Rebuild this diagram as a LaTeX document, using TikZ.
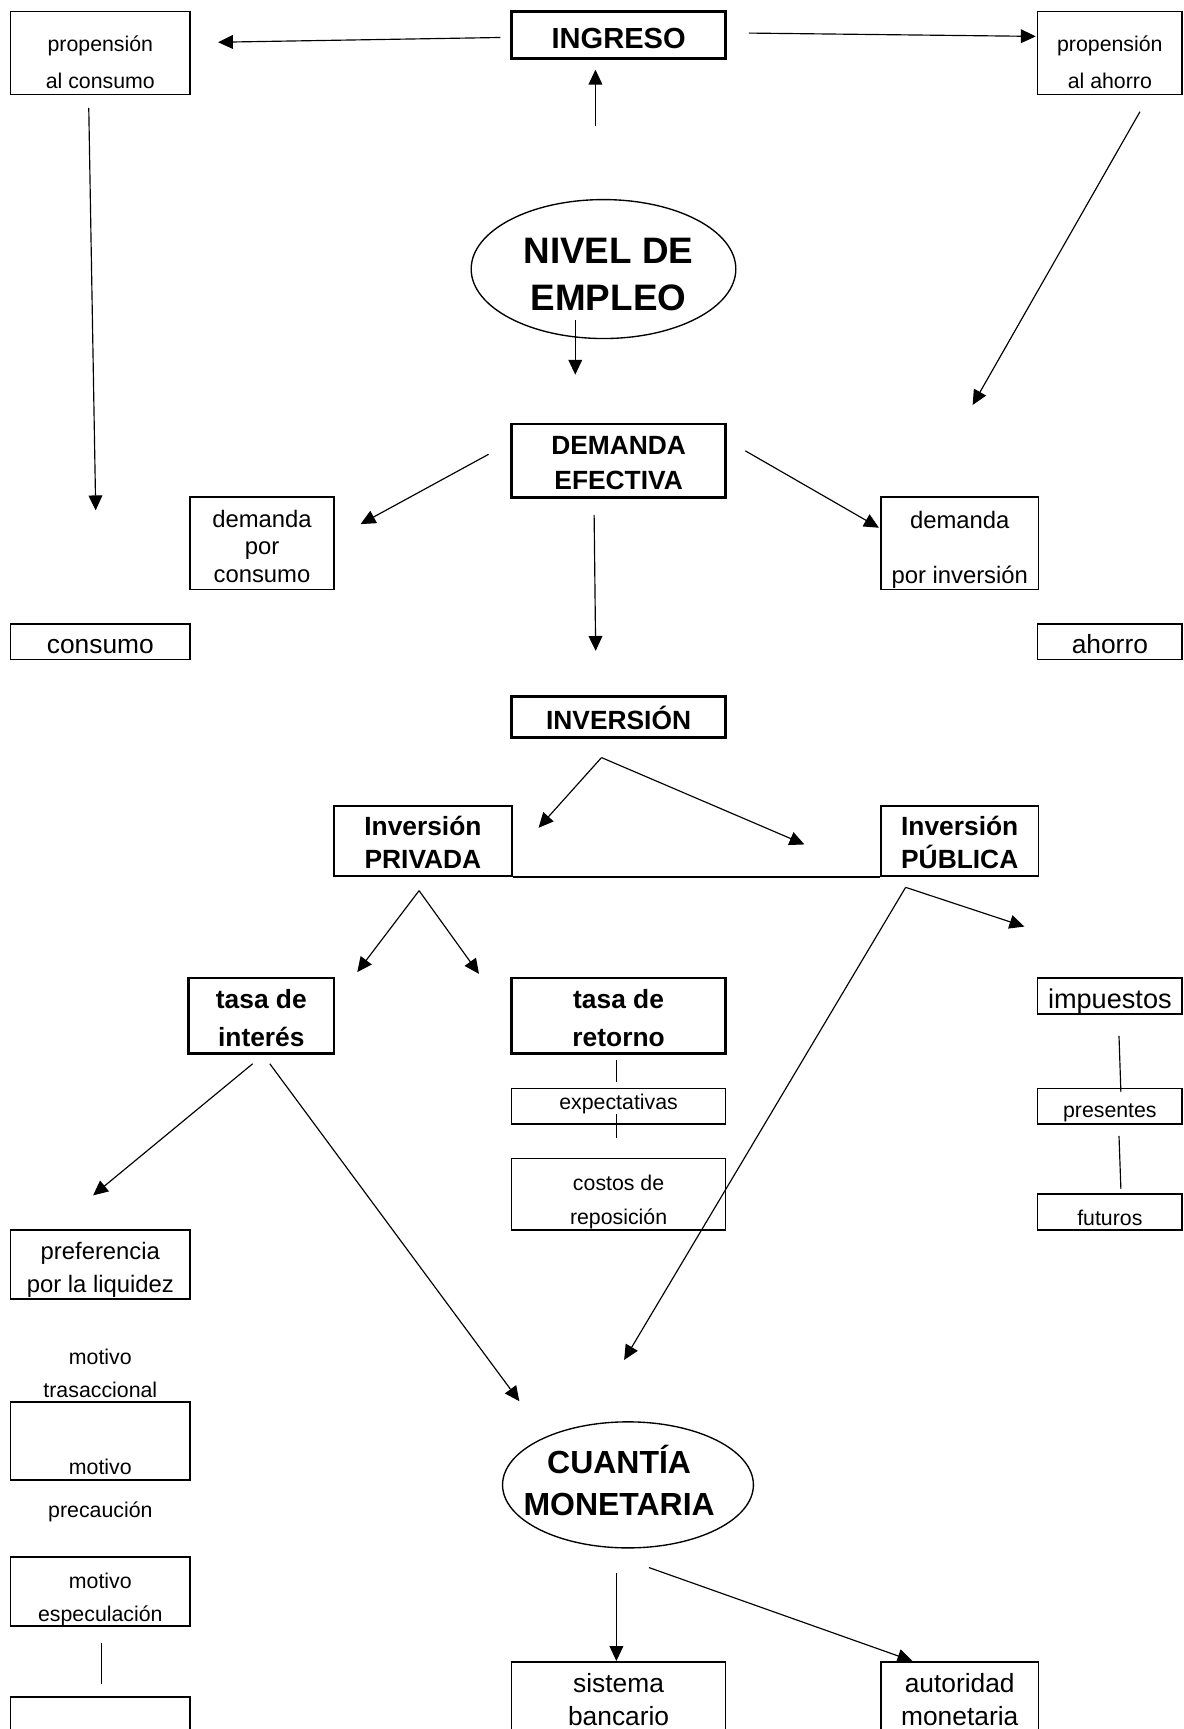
\documentclass[tikz,border=0pt]{standalone}
\usepackage{fontspec}
\setmainfont{Liberation Sans}
\usetikzlibrary{arrows.meta,shapes.geometric}

\tikzset{
  box/.style={draw, rectangle, line width=0.8pt, inner sep=0pt},
  thickbox/.style={box, line width=1.4pt},
  oval/.style={draw, ellipse, line width=0.7pt, inner sep=0pt},
  txt/.style={inner sep=0pt, align=center},
  arr/.style={-{Triangle[length=2.7mm,width=2.5mm]}, line width=0.6pt},
  ln/.style={line width=0.6pt},
  smalltxt/.style={font=\fontsize{11}{17}\selectfont},
  midtxt/.style={font=\fontsize{12.3}{14.2}\selectfont},
  bigtxt/.style={font=\fontsize{13.6}{17}\selectfont},
  boldtxt/.style={font=\bfseries\fontsize{13.6}{17}\selectfont},
}

\begin{document}
\begin{tikzpicture}[x=0.2mm, y=-0.2mm]
    \useasboundingbox (0,0) rectangle (1073,1568);
    \clip (0,0) rectangle (1073,1568);

    % the top row (texts are put in as labels, a bit lower than the middle of the box)
    \node[box, minimum width=32.6mm, minimum height=15mm,
      label={[txt, font=\fontsize{11}{18.7}\selectfont, yshift=-1.7mm]center:propensión\\al consumo}] (propcons) at (91,48) {};
    \node[thickbox, minimum width=38.8mm, minimum height=8.46mm,
      label={[txt, font=\bfseries\fontsize{15}{18}\selectfont, yshift=-0.6mm]center:INGRESO}] (ingreso) at (561,31.8) {};
    \node[box, minimum width=26.2mm, minimum height=15mm,
      label={[txt, font=\fontsize{11}{18.7}\selectfont, yshift=-1.7mm]center:propensión\\al ahorro}] (propahorro) at (1006.5,48) {};

    \node[oval, minimum width=48mm, minimum height=25.2mm,
      label={[txt, font=\bfseries\fontsize{19}{24.4}\selectfont, xshift=0.9mm, yshift=-1mm]center:NIVEL DE\\EMPLEO}] (empleo) at (547.3,244) {};

    % demanda
    \node[thickbox, minimum width=38.8mm, minimum height=13.36mm,
      label={[txt, font=\bfseries\fontsize{13.6}{18.1}\selectfont, yshift=-0.4mm]center:DEMANDA\\EFECTIVA}] (demanda) at (561,418) {};
    \node[box, minimum width=26.04mm, minimum height=16.8mm,
      label={[txt, midtxt, yshift=-0.6mm]center:demanda\\por\\consumo}] (demcons) at (237.6,492.5) {};
    \node[box, minimum width=28.62mm, minimum height=16.8mm,
      label={[txt, midtxt, yshift=-1.2mm]center:demanda\\[14pt]por inversión}] (deminv) at (870.35,492.5) {};
    \node[box, minimum width=32.6mm, minimum height=6.4mm,
      label={[txt, bigtxt, yshift=-0.8mm]center:consumo}] (consumo) at (91,582) {};
    \node[box, minimum width=26.2mm, minimum height=6.4mm,
      label={[txt, bigtxt, yshift=-0.4mm]center:ahorro}] (ahorro) at (1006.5,582) {};

    % inversion
    \node[thickbox, minimum width=38.8mm, minimum height=7.38mm,
      label={[txt, boldtxt, yshift=-0.2mm]center:INVERSIÓN}] (inversion) at (561,650.35) {};
    \node[box, minimum width=32.34mm, minimum height=12.72mm,
      label={[txt, boldtxt, yshift=-0.2mm]center:Inversión\\PRIVADA}] (privada) at (383.55,762.8) {};
    \node[box, minimum width=28.62mm, minimum height=12.72mm,
      label={[txt, boldtxt, yshift=-0.2mm]center:Inversión\\PÚBLICA}] (publica) at (870.35,762.8) {};

    % tasas
    \node[thickbox, minimum width=26.38mm, minimum height=13.72mm,
      label={[txt, font=\bfseries\fontsize{13.6}{19.8}\selectfont, yshift=-0.4mm]center:tasa de\\interés}] (interes) at (237,921.1) {};
    \node[thickbox, minimum width=38.8mm, minimum height=13.72mm,
      label={[txt, font=\bfseries\fontsize{13.6}{19.8}\selectfont, yshift=-0.4mm]center:tasa de\\retorno}] (retorno) at (561,921.1) {};
    \node[box, minimum width=38.8mm, minimum height=6.46mm,
      label={[txt, smalltxt, yshift=0.4mm]center:expectativas}] (expect) at (561,1003.35) {};
    \node[box, minimum width=38.8mm, minimum height=13mm,
      label={[txt, font=\fontsize{11}{17.6}\selectfont, yshift=-1.4mm]center:costos de\\reposición}] (costos) at (561,1083.1) {};

    % impuestos
    \node[box, minimum width=26.2mm, minimum height=6.58mm,
      label={[txt, font=\fontsize{14}{17}\selectfont, yshift=-1mm]center:impuestos}] (impuestos) at (1006.5,903.25) {};
    \node[box, minimum width=26.2mm, minimum height=6.46mm,
      label={[txt, smalltxt, yshift=-1.2mm]center:presentes}] (presentes) at (1006.5,1003.35) {};
    \node[box, minimum width=26.2mm, minimum height=6.52mm,
      label={[txt, smalltxt, yshift=-1mm]center:futuros}] (futuros) at (1006.5,1099.3) {};

    % motivos
    \node[box, minimum width=32.6mm, minimum height=12.52mm,
      label={[txt, font=\fontsize{12.3}{17}\selectfont, yshift=-1mm]center:preferencia\\por la liquidez}] (liquidez) at (91,1146.9) {};
    \node[txt, smalltxt] (trasacc) at (91,1245.7) {motivo\\trasaccional};
    \node[box, minimum width=32.6mm, minimum height=14.2mm] (precbox) at (91,1306.9) {};
    \node[txt, smalltxt] (precmot) at (91,1330.3) {motivo};
    \node[txt, smalltxt] (precauc) at (91,1371) {precaución};
    \node[box, minimum width=32.6mm, minimum height=12.56mm,
      label={[txt, smalltxt, yshift=-1.4mm]center:motivo\\especulación}] (especul) at (91,1443.4) {};
    \node[box, minimum width=32.6mm, minimum height=12.4mm] (lastbox) at (91,1570) {};

    % cuantia
    \node[oval, minimum width=45.5mm, minimum height=22.86mm,
      label={[txt, font=\bfseries\fontsize{16.5}{22}\selectfont, xshift=-1.6mm, yshift=0.8mm]center:CUANTÍA\\MONETARIA}] (cuantia) at (569.5,1346.6) {};
    \node[box, minimum width=38.8mm, minimum height=13.6mm,
      label={[txt, bigtxt]center:sistema\\bancario}] (sistema) at (561,1541) {};
    \node[box, minimum width=28.62mm, minimum height=13.6mm,
      label={[txt, bigtxt]center:autoridad\\monetaria}] (autoridad) at (870.35,1541) {};

    % the split points
    \coordinate (invsplit) at ([shift={(-15.5,17)}]inversion.south);
    \coordinate (privsplit) at ([shift={(-3.5,12.4)}]privada.south);
    \coordinate (pubsplit) at ([shift={(23.2,9.4)}]publica.south west);

    % draw the arrows
    \draw[arr] ([shift={(-9,2.2)}]ingreso.west) -- ([shift={(24.5,-9.7)}]propcons.east);
    \draw[arr] ([shift={(20,-1.8)}]ingreso.east) -- ([shift={(-1,-15)}]propahorro.west);
    \draw[arr] ([shift={(-21,60)}]ingreso.south) -- ([shift={(-21,9)}]ingreso.south);
    \draw[arr] ([shift={(-25.6,-17)}]empleo.south) -- ([shift={(-39.3,-43.6)}]demanda.north);
    \draw[arr] ([shift={(-10.5,11.7)}]propcons.south) -- ([shift={(-4.2,-102.5)}]consumo.north);
    \draw[arr] ([shift={(27.3,15.1)}]propahorro.south) -- ([shift={(11.7,-82.5)}]deminv.north);

    \draw[arr] ([shift={(-19.7,-6)}]demanda.west) -- ([shift={(23.6,-17.2)}]demcons.east);
    \draw[arr] ([shift={(16.6,-9.2)}]demanda.east) -- ([shift={(-1,-13.9)}]deminv.west);
    \draw[arr] ([shift={(-22.2,14.2)}]demanda.south) -- ([shift={(-20.8,-40.4)}]inversion.north);

    \draw[arr] (invsplit) -- ([shift={(23.3,-12.1)}]privada.east);
    \draw[arr] (invsplit) -- ([shift={(-68.6,3)}]publica.west);
    \draw[ln] (privada.south east) -- (publica.south west);

    \draw[arr] (privsplit) -- ([shift={(19.8,-4)}]interes.north east);
    \draw[arr] (privsplit) -- ([shift={(-28.4,-2.4)}]retorno.north west);
    \draw[arr] (pubsplit) -- ([shift={(-11.3,-45.8)}]impuestos.north west);
    \draw[arr] (pubsplit) -- ([shift={(-3.5,-55.5)}]cuantia.north);

    \draw[arr] ([shift={(-7.9,8.1)}]interes.south) -- ([shift={(-6.6,-30.8)}]liquidez.north);
    \draw[arr] ([shift={(7.7,8.1)}]interes.south) -- ([shift={(-98.5,-18.1)}]cuantia.north);

    \draw[ln] ([shift={(-2,4.6)}]retorno.south) -- ([shift={(-2,-5.2)}]expect.north);
    \draw[ln] ([shift={(-2,-9.7)}]expect.south) -- ([shift={(-2,-18.1)}]costos.north);
    \draw[ln] ([shift={(8.3,19.1)}]impuestos.south) -- ([shift={(10,3.8)}]presentes.north);
    \draw[ln] ([shift={(8.3,10)}]presentes.south) -- ([shift={(10,-4.2)}]futuros.north);
    \draw[ln] ([shift={(1,14.2)}]especul.south) -- ([shift={(1,-11.5)}]lastbox.north);

    \draw[arr] ([shift={(-10.5,22.2)}]cuantia.south) -- ([shift={(-2,0)}]sistema.north);
    \draw[arr] ([shift={(19,17.2)}]cuantia.south) -- ([shift={(-43,0)}]autoridad.north);
\end{tikzpicture}
\end{document}
